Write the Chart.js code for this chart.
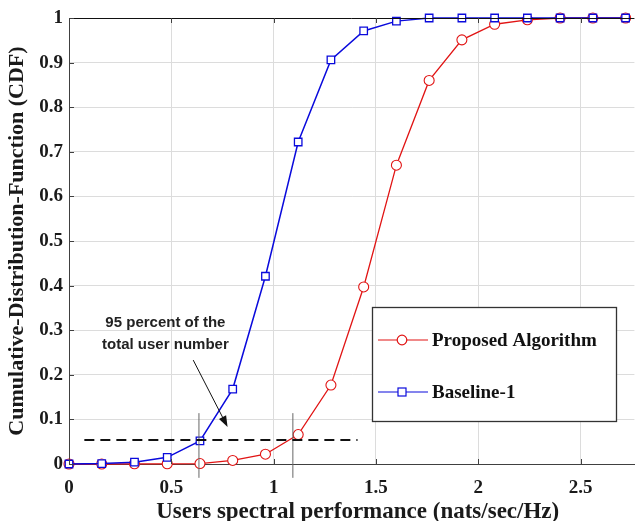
<!DOCTYPE html>
<html><head><meta charset="utf-8">
<script src="https://cdn.jsdelivr.net/npm/chart.js@4.4.0/dist/chart.umd.min.js"></script>
<style>html,body{margin:0;padding:0;background:#fff;overflow:hidden;}</style>
</head><body>
<canvas id="c" width="641" height="521"></canvas>
<script>
// ---- data ----
const xValues   = [0, 0.16, 0.32, 0.48, 0.64, 0.80, 0.96, 1.12, 1.28, 1.44, 1.60, 1.76, 1.92, 2.08, 2.24, 2.40, 2.56, 2.72];
const proposed  = [0, 0, 0.0005, 0.0005, 0.001, 0.008, 0.022, 0.066, 0.177, 0.397, 0.670, 0.860, 0.951, 0.986, 0.996, 1, 1, 1];
const baseline  = [0, 0.001, 0.004, 0.015, 0.052, 0.168, 0.421, 0.722, 0.906, 0.971, 0.993, 1, 1, 1, 1, 1, 1, 1];
const seriesNames = ['Proposed Algorithm', 'Baseline-1'];
const xTicks = [0, 0.5, 1, 1.5, 2, 2.5];
const yTicks = [0, 0.1, 0.2, 0.3, 0.4, 0.5, 0.6, 0.7, 0.8, 0.9, 1];
const xTitle = 'Users spectral performance (nats/sec/Hz)';
const yTitle = 'Cumulative-Distribution-Function (CDF)';
// annotation (data units)
const refLevel  = 0.054;
const refLineX  = [0.075, 1.41];
const crossX    = [0.635, 1.094];
const crossY    = [-0.031, 0.114];
const arrowFrom = [0.607, 0.233];
const arrowTo   = [0.775, 0.083];
const noteLines = ['95 percent of the', 'total user number'];
const noteX = 0.471;
const noteY = [0.316, 0.267];

const serif = '"Liberation Serif", "Times New Roman", serif';
const sans  = '"Liberation Sans", Arial, sans-serif';
const RED = 'rgb(225,20,20)', BLUE = 'rgb(10,10,220)';

function pts(xs, ys){ return xs.map((x,i)=>({x:x, y:ys[i]})); }

const overlay = {
  id: 'overlay',
  afterDatasetsDraw(chart){
    const ctx = chart.ctx, a = chart.chartArea;
    const xs = chart.scales.x, ys = chart.scales.y;
    ctx.save();
    // frame
    ctx.strokeStyle = '#111'; ctx.lineWidth = 1;
    ctx.beginPath(); ctx.moveTo(a.left, a.top+0.5); ctx.lineTo(a.right, a.top+0.5); ctx.stroke();
    // inner ticks
    ctx.strokeStyle = '#404040';
    xTicks.forEach(v=>{ const px = Math.round(xs.getPixelForValue(v))+0.5;
      ctx.beginPath(); ctx.moveTo(px, a.bottom); ctx.lineTo(px, a.bottom-5); ctx.stroke();
      ctx.beginPath(); ctx.moveTo(px, a.top); ctx.lineTo(px, a.top+5); ctx.stroke(); });
    yTicks.forEach(v=>{ const py = Math.round(ys.getPixelForValue(v))+0.5;
      ctx.beginPath(); ctx.moveTo(a.left, py); ctx.lineTo(a.left+5, py); ctx.stroke(); });
    // x axis title (plot box continues past the right edge, so centre is offset)
    ctx.fillStyle = '#1a1a1a'; ctx.font = 'bold 23px ' + serif;
    ctx.textAlign = 'center'; ctx.textBaseline = 'alphabetic';
    ctx.fillText(xTitle, (a.left + a.right) / 2 + 6, 518);
    // arrow
    const x0 = xs.getPixelForValue(arrowFrom[0]), y0 = ys.getPixelForValue(arrowFrom[1]);
    const x1 = xs.getPixelForValue(arrowTo[0]),   y1 = ys.getPixelForValue(arrowTo[1]);
    const ang = Math.atan2(y1-y0, x1-x0);
    ctx.strokeStyle = '#111'; ctx.fillStyle = '#111'; ctx.lineWidth = 1;
    ctx.beginPath(); ctx.moveTo(x0,y0); ctx.lineTo(x1-8*Math.cos(ang), y1-8*Math.sin(ang)); ctx.stroke();
    ctx.beginPath(); ctx.moveTo(x1,y1);
    ctx.lineTo(x1-11*Math.cos(ang)+4*Math.sin(ang), y1-11*Math.sin(ang)-4*Math.cos(ang));
    ctx.lineTo(x1-11*Math.cos(ang)-4*Math.sin(ang), y1-11*Math.sin(ang)+4*Math.cos(ang));
    ctx.closePath(); ctx.fill();
    // note text
    ctx.font = 'bold 15px ' + sans; ctx.fillStyle = '#222';
    ctx.textAlign = 'center'; ctx.textBaseline = 'middle';
    noteLines.forEach((t,i)=> ctx.fillText(t, xs.getPixelForValue(noteX), ys.getPixelForValue(noteY[i])));
    // legend
    const L = {x:372, y:307, w:244, h:114};
    ctx.fillStyle = '#fff'; ctx.fillRect(L.x, L.y, L.w, L.h);
    ctx.strokeStyle = '#333'; ctx.lineWidth = 1.3; ctx.strokeRect(L.x+0.5, L.y+0.5, L.w, L.h);
    const rows = [340, 392];
    seriesNames.forEach((name,i)=>{
      const ds = chart.data.datasets.find(d => d.label === name);
      const yy = rows[i];
      ctx.strokeStyle = ds.borderColor; ctx.lineWidth = 1.2;
      ctx.beginPath(); ctx.moveTo(378, yy); ctx.lineTo(428, yy); ctx.stroke();
      ctx.fillStyle = '#fff';
      if (ds.pointStyle === 'circle') { ctx.beginPath(); ctx.arc(402, yy, 4.8, 0, Math.PI*2); ctx.fill(); ctx.stroke(); }
      else { ctx.fillRect(398, yy-4, 8, 8); ctx.strokeRect(398, yy-4, 8, 8); }
      ctx.fillStyle = '#111'; ctx.font = 'bold 19px ' + serif; ctx.textAlign = 'left'; ctx.textBaseline = 'middle';
      ctx.fillText(name, 432, yy+1);
    });
    ctx.restore();
  }
};

new Chart(document.getElementById('c'), {
  type: 'scatter',
  data: { datasets: [
    { label: seriesNames[1], data: pts(xValues, baseline), showLine: true, borderColor: BLUE, backgroundColor: '#fff',
      borderWidth: 1.5, pointStyle: 'rect', pointRadius: 5.3, pointBorderWidth: 1.3, pointBorderColor: BLUE, pointBackgroundColor: '#fff', order: 1, clip: 6 },
    { label: seriesNames[0], data: pts(xValues, proposed), showLine: true, borderColor: RED, backgroundColor: '#fff',
      borderWidth: 1.3, pointStyle: 'circle', pointRadius: 5, pointBorderWidth: 1.1, pointBorderColor: RED, pointBackgroundColor: '#fff', order: 2, clip: 6 },
    { label: 'ref', data: [{x:refLineX[0], y:refLevel},{x:refLineX[1], y:refLevel}], showLine: true, borderColor: '#111',
      borderWidth: 2, borderDash: [10,6], pointRadius: 0, order: 0 },
    { label: 'c1', data: [{x:crossX[0], y:crossY[0]},{x:crossX[0], y:crossY[1]}], showLine: true, borderColor: '#666',
      borderWidth: 1, pointRadius: 0, order: 0, clip: false },
    { label: 'c2', data: [{x:crossX[1], y:crossY[0]},{x:crossX[1], y:crossY[1]}], showLine: true, borderColor: '#666',
      borderWidth: 1, pointRadius: 0, order: 0, clip: false }
  ]},
  options: {
    responsive: false, animation: false, devicePixelRatio: 1,
    layout: { padding: { top: 18, right: 0, bottom: 0, left: 0 } },
    plugins: { legend: { display: false }, tooltip: { enabled: false } },
    scales: {
      x: { type: 'linear', min: 0, max: 2.763,
        afterBuildTicks: s => { s.ticks = xTicks.map(v => ({ value: v })); },
        afterFit: s => { s.height = 57; },
        grid: { color: '#dcdcdc', drawTicks: false },
        border: { color: '#404040', width: 1 },
        ticks: { font: { family: serif, weight: 'bold', size: 19 }, color: '#1a1a1a', padding: 13,
          callback: v => String(+(+v).toFixed(1)) },
        title: { display: false }
      },
      y: { type: 'linear', min: 0, max: 1,
        afterBuildTicks: s => { s.ticks = yTicks.map(v => ({ value: v })); },
        afterFit: s => { s.width = 69; },
        grid: { color: '#dcdcdc', drawTicks: false },
        border: { color: '#404040', width: 1 },
        ticks: { font: { family: serif, weight: 'bold', size: 19 }, color: '#1a1a1a', padding: 6,
          callback: v => String(+(+v).toFixed(1)) },
        title: { display: true, text: yTitle, color: '#1a1a1a', font: { family: serif, weight: 'bold', size: 22 }, padding: { top: 4, bottom: 0 } }
      }
    }
  },
  plugins: [overlay]
});
</script>
</body></html>
